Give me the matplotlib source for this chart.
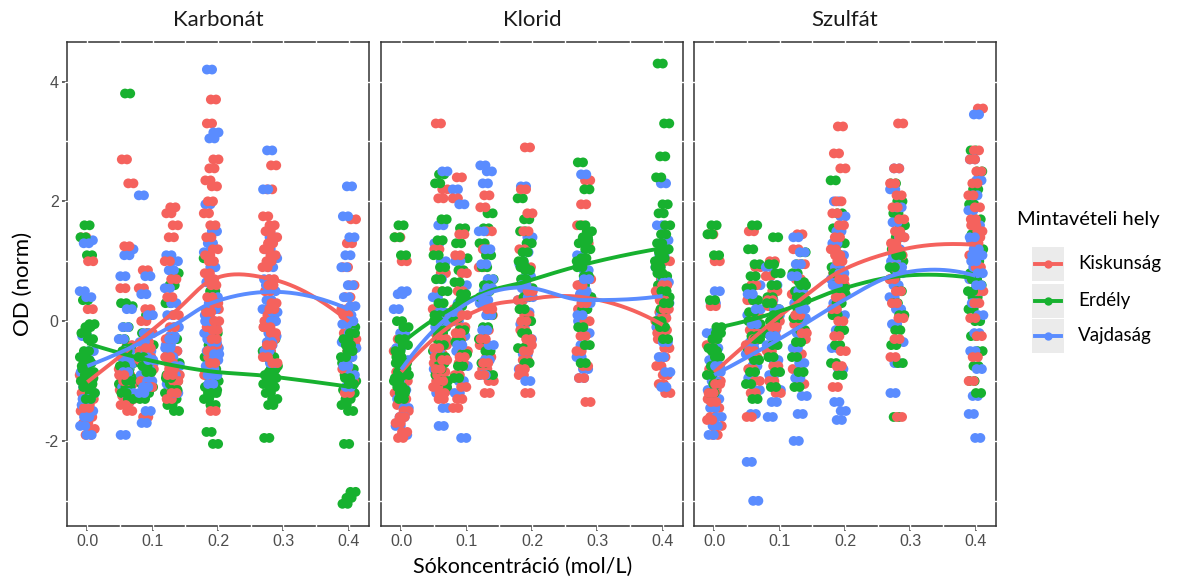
import numpy as np
import matplotlib.pyplot as plt
from matplotlib.lines import Line2D
from matplotlib.patches import Rectangle

# salt concentrations (mol/L) and sampling sites
levels = [0.0, 0.06, 0.09, 0.13, 0.19, 0.28, 0.4]
salts = ["Karbonát", "Klorid", "Szulfát"]
sites = ["Kiskunság", "Erdély", "Vajdaság"]
site_colors = ["#F5625D", "#17B12F", "#5A8CFF"]

# normalised OD readings, one list per concentration level
karbonat_kiskunsag = [
    [1.4, 0.2, -0.7, -0.9, -1.1, -1.2, -1.3, -1.4, -1.5, -1.6, -1.7, -1.8, -1.9, -1.2, 1.0, -1.45],
    [2.7, 2.3, 1.25, 0.55, -0.4, -0.6, -0.8, -0.9, -1.0, -1.05, -1.1, -1.15, -1.2, -1.25, -1.3, -1.35, -1.4, -1.5, -1.0, -0.9],
    [0.85, 0.55, 0.2, 0.0, -0.2, -0.35, -0.5, -0.6, -0.7, -0.8, -0.9, -1.0, -1.1, -1.6, -0.65, -0.45],
    [1.9, 1.8, 1.6, 1.4, 1.0, 0.7, 0.4, 0.1, -0.1, -0.3, -0.5, -0.7, -0.9, -1.1, -1.3, -1.0, -0.8, -0.6, -1.2, -0.9],
    [3.7, 3.3, 2.7, 2.55, 2.35, 2.25, 2.0, 1.8, 1.6, 1.4, 1.2, 1.0, 0.8, 0.6, 0.4, 0.2, 0.0, -0.2, -0.4, -0.6, -0.9, -1.5,
     -0.1, 0.3, 0.7, 1.1, -0.3, -0.5, 0.0, -0.7, 0.15, -0.15],
    [2.6, 2.2, 1.75, 1.6, 1.5, 1.4, 1.3, 1.2, 1.1, 1.0, 0.9, 0.7, 0.5, 0.3, 0.1, -0.1, -0.3, -0.5, -0.7, 0.6, 0.0, -0.2,
     -0.4, -0.6, 0.2, -0.1],
    [1.7, 1.3, 0.9, 0.6, 0.4, 0.2, 0.0, -0.2, -0.4, -0.6, -0.8, -1.0, -1.2, -0.3, -0.5, 0.1],
]
karbonat_erdely = [
    [1.6, 1.4, 1.1, 0.35, -0.05, -0.1, -0.2, -0.3, -0.5, -0.6, -0.7, -0.8, -0.85, -0.9, -1.0, -1.05, -1.1, -1.2, -1.3, -0.75,
     -0.95, -0.65],
    [3.8, 0.3, 0.25, -0.1, -0.3, -0.45, -0.6, -0.7, -0.8, -0.9, -0.95, -1.0, -1.05, -1.1, -1.2, -1.3, -0.85, -0.75, -1.0, -0.5],
    [0.1, -0.2, -0.4, -0.55, -0.7, -0.8, -0.9, -0.95, -1.0, -1.05, -1.1, -1.2, -1.3, -0.85, -0.75, -0.6],
    [0.8, 0.6, 0.3, -0.3, -0.5, -0.7, -0.8, -0.9, -1.0, -1.1, -1.2, -1.3, -1.4, -1.5, -1.05, -0.95, -1.15],
    [1.05, 0.5, 0.2, -0.2, -0.4, -0.6, -0.8, -0.9, -1.0, -1.05, -1.1, -1.15, -1.2, -1.3, -1.4, -1.85, -2.05, -0.95,
     -1.1, -1.2],
    [-0.1, -0.3, -0.6, -0.75, -0.85, -0.9, -0.95, -1.0, -1.05, -1.1, -1.2, -1.3, -1.4, -1.95, -0.8, -1.0, -0.5, -0.6],
    [0.15, -0.1, -0.4, -0.7, -0.8, -0.9, -1.0, -1.1, -1.15, -1.2, -1.3, -1.4, -1.5, -2.05, -2.85, -2.95, -3.05, -1.05,
     -0.95, -0.6, -0.5, -0.3, -0.2, -0.4],
]
karbonat_vajdasag = [
    [1.35, 1.3, 0.5, 0.4, -0.25, -0.5, -0.65, -0.85, -1.0, -1.1, -1.2, -1.3, -1.4, -1.5, -1.6, -1.75, -1.9, -1.3],
    [1.2, 1.1, 0.75, 0.2, -0.1, -0.3, -0.5, -0.6, -0.7, -0.8, -0.9, -1.0, -1.1, -1.2, -1.35, -1.9, -0.65, -0.85],
    [2.1, 0.75, 0.45, 0.1, -0.2, -0.35, -0.5, -0.6, -0.7, -0.8, -0.9, -1.0, -1.1, -1.2, -1.5, -1.7, -0.65],
    [1.1, 1.0, 0.85, 0.55, 0.3, 0.1, -0.1, -0.25, -0.4, -0.5, -0.6, -0.75, -0.9, -1.05, -1.2, -0.3, -0.45],
    [4.2, 3.15, 3.05, 1.95, 1.5, 1.3, 1.15, 0.9, 0.65, 0.4, 0.3, 0.1, -0.1, -0.3, -0.45, -0.6, -0.75, -0.9, -1.05, -0.2,
     0.2, -0.5, -0.65, -0.8, 0.0, -0.35, -0.9, -0.55],
    [2.85, 2.2, 1.4, 1.2, 1.05, 0.9, 0.7, 0.5, 0.35, 0.2, 0.05, -0.1, -0.25, -0.4, -0.55, -0.7, 0.6, 0.15, -0.2, -0.5,
     0.0, -0.35],
    [2.25, 1.75, 1.4, 1.1, 0.9, 0.6, 0.4, 0.25, 0.1, -0.05, -0.2, -0.3, -0.45, -0.6, -0.75, -0.9, -1.1, -0.35, 0.0],
]

klorid_kiskunsag = [
    [1.4, 1.0, -0.3, -0.5, -0.7, -0.85, -1.0, -1.1, -1.2, -1.3, -1.4, -1.5, -1.6, -1.7, -1.85, -1.95],
    [3.3, 2.2, 2.05, 1.2, 0.8, 0.5, 0.2, 0.0, -0.2, -0.4, -0.55, -0.7, -0.85, -1.0, -1.15, -1.3, -0.6, -0.3, -0.9, -1.1,
     -1.2, -0.8, -0.65, -1.0, -0.45],
    [2.4, 2.05, 1.45, 1.1, 0.8, 0.5, 0.2, -0.1, -0.3, -0.5, -0.7, -0.9, -1.1, -1.3, -1.45, -0.6, -0.2, 0.1],
    [2.1, 1.9, 1.5, 1.2, 0.9, 0.6, 0.35, 0.1, -0.15, -0.4, -0.6, -0.8, -1.0, -1.2, -0.3, 0.2, -0.7, -0.9],
    [2.9, 2.2, 1.8, 1.5, 1.2, 0.9, 0.6, 0.35, 0.1, -0.15, -0.4, -0.65, -0.9, -1.2, 0.0, 0.5, -0.5, -0.8, -0.3],
    [2.35, 1.95, 1.6, 1.3, 1.0, 0.7, 0.45, 0.2, 0.0, -0.25, -0.5, -0.75, -0.95, -1.35, 0.3, 0.6],
    [1.0, 0.7, 0.45, 0.3, 0.15, 0.0, -0.15, -0.3, -0.45, -0.6, -0.75, -0.9, -1.05, -1.2, 0.05, -0.2, 0.2, 0.35, 0.5, 0.6],
]
klorid_erdely = [
    [1.6, 1.4, 1.1, 0.0, -0.1, -0.3, -0.5, -0.7, -0.85, -1.0, -1.15, -0.6, -0.4, -1.3, -0.95, -0.8, -1.1, -0.9, -1.2, -0.7],
    [2.45, 2.3, 1.7, 1.35, 1.1, 0.9, 0.7, 0.5, 0.3, 0.1, -0.1, -0.3, -0.5, -0.7, -0.9, -1.1, -0.2, 0.0, -0.6, -0.8, -1.0,
     -0.4],
    [1.55, 1.3, 1.05, 0.85, 0.65, 0.45, 0.25, 0.05, -0.15, -0.35, -0.55, -0.75, -0.95, 0.35],
    [1.8, 1.55, 1.3, 1.1, 0.9, 0.7, 0.5, 0.3, 0.1, -0.1, -0.3, -0.5, -0.7, -0.9, 0.6, 0.4],
    [2.05, 1.7, 1.5, 1.3, 1.15, 1.0, 0.85, 0.7, 0.55, 0.4, 0.2, 0.0, -0.2, -0.45, -0.7, 0.9],
    [2.65, 2.2, 1.6, 1.5, 1.4, 1.3, 1.2, 1.05, 0.9, 0.75, 0.6, 0.4, 0.2, -0.1, -0.4, -0.7, 1.0, 1.35],
    [4.3, 3.3, 2.75, 2.4, 1.95, 1.8, 1.6, 1.45, 1.3, 1.2, 1.05, 0.9, 0.75, 0.6, 0.4, 0.2, 0.0, -0.3, 1.15, 1.0, 0.5, 0.8,
     0.3, -0.1],
]
klorid_vajdasag = [
    [0.5, 0.45, 0.2, -0.2, -0.45, -0.65, -0.85, -1.0, -1.15, -1.3, -1.45, -1.6, -1.75, -1.9],
    [2.5, 1.6, 1.3, 1.0, 0.7, 0.4, 0.15, -0.1, -0.35, -0.6, -0.8, -1.0, -1.2, -1.45, -1.75, -0.5, 0.0],
    [2.2, 1.95, 1.0, 0.6, 0.3, 0.0, -0.25, -0.5, -0.75, -1.0, -1.2, -1.95, -0.4, 0.15],
    [2.6, 2.5, 2.3, 1.5, 1.2, 0.95, 0.7, 0.5, 0.3, 0.1, -0.15, -0.4, -0.65, -0.9, 0.55, 0.35],
    [2.25, 1.4, 1.15, 0.95, 0.75, 0.55, 0.35, 0.15, -0.05, -0.3, -0.55, -0.8, -1.0, 0.6, 0.4],
    [2.45, 1.1, 0.85, 0.6, 0.4, 0.2, 0.0, -0.2, -0.4, -0.6, -0.8, -0.95, 0.3, 0.5, 0.1, 0.7, 0.45],
    [2.3, 1.6, 1.35, 1.1, 0.9, 0.7, 0.5, 0.3, 0.1, -0.1, -0.35, -0.6, -0.85, -1.1, 0.45, 0.65],
]

szulfat_kiskunsag = [
    [1.45, 1.0, 0.25, -0.4, -0.6, -0.8, -1.0, -1.15, -1.3, -1.45, -1.6, -1.75, -1.9, -1.2, -1.05, -1.35, -1.65],
    [1.5, 0.9, 0.6, 0.35, 0.1, -0.15, -0.4, -0.6, -0.8, -1.0, -1.2, -1.6, -0.3, -0.5],
    [1.0, 0.75, 0.5, 0.25, 0.0, -0.25, -0.5, -0.75, -1.0, -1.2, -0.1, 0.35],
    [1.45, 1.2, 0.95, 0.7, 0.45, 0.2, -0.05, -0.3, -0.55, -0.8, -1.05, 0.1, -0.2],
    [3.25, 2.8, 2.55, 2.0, 1.8, 1.6, 1.4, 1.2, 1.0, 0.8, 0.6, 0.4, 0.2, 0.0, -0.25, -0.5, -0.75, -1.1, 0.7, 1.1],
    [3.3, 2.55, 2.3, 2.1, 1.9, 1.7, 1.5, 1.3, 1.1, 0.9, 0.7, 0.5, 0.3, 0.05, -0.3, -0.6, -1.6, 1.2, 1.4],
    [3.55, 2.85, 2.7, 2.5, 2.3, 2.1, 1.9, 1.7, 1.5, 1.3, 1.1, 0.9, 0.7, 0.5, 0.3, 0.05, -0.25, -0.6, -1.0, 1.4, 1.6],
]
szulfat_erdely = [
    [1.6, 1.45, 1.1, 0.35, -0.1, -0.3, -0.45, -0.6, -0.75, -0.9, -1.05, -1.2, -0.2, -0.5],
    [1.6, 1.2, 0.95, 0.75, 0.55, 0.35, 0.15, -0.05, -0.25, -0.45, -0.65, -0.85, -1.05, -1.3, 0.0, -0.3],
    [1.4, 0.95, 0.8, 0.6, 0.4, 0.2, 0.0, -0.2, -0.4, -0.6, -0.85, -1.1, 0.3, 0.1],
    [1.15, 0.95, 0.8, 0.65, 0.5, 0.35, 0.2, 0.05, -0.15, -0.35, -0.6, -0.85, -1.1, 0.6, 0.4],
    [2.35, 1.8, 1.55, 1.3, 1.1, 0.9, 0.75, 0.6, 0.45, 0.3, 0.1, -0.15, -0.4, -0.7, -0.9, 0.8, 0.55],
    [2.3, 2.0, 1.8, 1.6, 1.4, 1.2, 1.0, 0.85, 0.7, 0.5, 0.3, 0.1, -0.15, -0.4, -0.7, -1.6, 0.9, 1.1],
    [2.85, 2.5, 2.2, 1.95, 1.7, 1.45, 1.2, 1.0, 0.8, 0.6, 0.4, 0.2, 0.0, -0.25, -0.5, -0.75, -1.0, -1.2, 0.7, 0.5],
]
szulfat_vajdasag = [
    [0.5, 0.3, -0.2, -0.45, -0.65, -0.85, -1.0, -1.15, -1.3, -1.45, -1.6, -1.75, -1.9, -0.75],
    [0.6, 0.35, 0.1, -0.15, -0.35, -0.55, -0.75, -0.95, -1.15, -1.55, -2.35, -3.0, -0.45, 0.2, -0.05, 0.45],
    [0.9, 0.6, 0.35, 0.1, -0.15, -0.4, -0.65, -0.9, -1.15, -1.35, -1.6, 0.2, -0.25],
    [1.4, 1.15, 0.95, 0.75, 0.5, 0.3, 0.05, -0.2, -0.45, -0.7, -0.95, -1.25, -1.55, -2.0, 0.2],
    [2.0, 1.75, 1.5, 1.3, 1.1, 0.9, 0.7, 0.5, 0.3, 0.1, -0.15, -0.45, -0.8, -1.35, -1.5, -1.65, 0.6, 0.8],
    [2.55, 2.2, 1.9, 1.65, 1.4, 1.2, 1.0, 0.8, 0.6, 0.4, 0.2, -0.05, -0.35, -0.7, -1.2, 0.9, 1.1],
    [3.45, 2.7, 2.35, 2.1, 1.85, 1.6, 1.35, 1.1, 0.9, 0.7, 0.5, 0.3, 0.1, -0.2, -0.5, -0.8, -1.25, -1.55, -1.95, 1.0,
     0.8, 1.2, 1.4, 0.6, 1.1],
]

panel_data = {
    "Karbonát": [karbonat_kiskunsag, karbonat_erdely, karbonat_vajdasag],
    "Klorid": [klorid_kiskunsag, klorid_erdely, klorid_vajdasag],
    "Szulfát": [szulfat_kiskunsag, szulfat_erdely, szulfat_vajdasag],
}

W, H = 1185, 581
TEXT_FONT = ["Lato", "DejaVu Sans"]
TICK_FONT = ["Liberation Sans", "DejaVu Sans"]


def fx(px):
    return px / W


def fy(py):
    return 1 - py / H


def local_fit(x, y, x0, span=0.75):
    """Tricube-weighted local quadratic at x0 -> (value, slope)."""
    n = len(x)
    q = int(np.floor(span * n))
    d = np.abs(x - x0)
    ds = np.sort(d)
    h = ds[q - 1]
    further = ds[ds > h + 1e-12]
    h = (h + further[0]) / 2 if len(further) else h * 1.001
    w = np.clip(1 - (d / h) ** 3, 0, None) ** 3
    X = np.column_stack([np.ones(n), x - x0, (x - x0) ** 2])
    sw = np.sqrt(w)
    coef, *_ = np.linalg.lstsq(X * sw[:, None], y * sw, rcond=None)
    return coef[0], coef[1]


def loess_curve(x, y, vertices, grid):
    """Fit at the vertices, then cubic Hermite between them (as loess' interpolate surface)."""
    x = np.asarray(x, float)
    y = np.asarray(y, float)
    vals, slopes = zip(*[local_fit(x, y, v) for v in vertices])
    out = np.empty_like(grid)
    for i in range(len(vertices) - 1):
        a, b = vertices[i], vertices[i + 1]
        sel = (grid >= a) & (grid <= b)
        t = (grid[sel] - a) / (b - a)
        hw = b - a
        out[sel] = ((2 * t ** 3 - 3 * t ** 2 + 1) * vals[i] + (t ** 3 - 2 * t ** 2 + t) * hw * slopes[i]
                    + (-2 * t ** 3 + 3 * t ** 2) * vals[i + 1] + (t ** 3 - t ** 2) * hw * slopes[i + 1])
    return out


def jitter(n, phase):
    # spread replicate pairs horizontally around a level
    frac = (np.arange(n) * 0.618034 + phase) % 1.0
    return -0.012 + 0.016 * frac


fig = plt.figure(figsize=(W / 100, H / 100), dpi=100)

panel_left = [67, 381, 694]
panel_w = 302
panel_top, panel_bottom = 42, 526
xlim = (-0.031, 0.431)
ylim = (-3.42, 4.66)
grid_x = np.linspace(0, 0.4, 161)

for pi, salt in enumerate(salts):
    ax = fig.add_axes([fx(panel_left[pi]), fy(panel_bottom),
                       panel_w / W, (panel_bottom - panel_top) / H])
    groups = panel_data[salt]

    # points: replicate pairs, interleaved between sites
    xs, ys, cs = [], [], []
    for li, lev in enumerate(levels):
        offs = [jitter(len(groups[g][li]), 0.17 + 0.31 * g + 0.13 * li) for g in range(3)]
        m = max(len(groups[g][li]) for g in range(3))
        for k in range(m):
            for g in range(3):
                vals = groups[g][li]
                if k < len(vals):
                    for extra in (0.0, 0.008):
                        xs.append(lev + offs[g][k] + extra)
                        ys.append(vals[k])
                        cs.append(site_colors[g])
    ax.scatter(xs, ys, s=50, c=cs, linewidths=0, zorder=3)

    # smoothed trends
    for g in range(3):
        gx = np.concatenate([[lev] * len(v) for lev, v in zip(levels, groups[g])])
        gy = np.concatenate(groups[g])
        ax.plot(grid_x, loess_curve(gx, gy, levels, grid_x), color=site_colors[g], lw=2.8,
                solid_capstyle="butt", zorder=4)

    ax.set_xlim(*xlim)
    ax.set_ylim(*ylim)

    # white grid lines cut across the dark panel border
    for gxv in np.arange(0, 0.41, 0.05):
        ax.plot([gxv, gxv], [-0.006, 1.006], color="white", lw=1.0,
                transform=ax.get_xaxis_transform(), clip_on=False, zorder=2.6)
    for gyv in [-3, -2, -1, 0, 1, 2, 3, 4]:
        ax.plot([-0.006, 1.006], [gyv, gyv], color="white", lw=1.0,
                transform=ax.get_yaxis_transform(), clip_on=False, zorder=2.6)

    for sp in ax.spines.values():
        sp.set_color("#333333")
        sp.set_linewidth(1.1)

    ax.set_xticks([0.0, 0.1, 0.2, 0.3, 0.4])
    ax.set_xticklabels(["0.0", "0.1", "0.2", "0.3", "0.4"], family=TICK_FONT)
    if pi == 0:
        ax.set_yticks([-2, 0, 2, 4])
        ax.set_yticklabels(["-2", "0", "2", "4"], family=TICK_FONT)
    else:
        ax.set_yticks([])
    ax.tick_params(length=3.5, width=1.1, color="#333333", labelcolor="#4D4D4D",
                   labelsize=11.5, pad=2.5)

    fig.text(fx(panel_left[pi] + panel_w / 2), fy(20), salt, ha="center", va="center",
             fontsize=16, family=TEXT_FONT, color="#1A1A1A")

fig.text(fx(23), fy(284), "OD (norm)", rotation=90, ha="center", va="center",
         fontsize=16, family=TEXT_FONT, color="black")
fig.text(fx(523), fy(567), "Sókoncentráció (mol/L)", ha="center", va="center",
         fontsize=15.5, family=TEXT_FONT, color="black")

# legend drawn by hand so every key gets its grey box
fig.text(fx(1017), fy(220), "Mintavételi hely", ha="left", va="center",
         fontsize=14.5, family=TEXT_FONT, color="black")
key_top = [247, 283.5, 319]
for g, site in enumerate(sites):
    top = key_top[g]
    fig.add_artist(Rectangle((fx(1032), fy(top + 34)), 32 / W, 34 / H,
                             transform=fig.transFigure, facecolor="#EBEBEB",
                             edgecolor="none"))
    yc = fy(top + 17)
    fig.add_artist(Line2D([fx(1035), fx(1061)], [yc, yc], color=site_colors[g], lw=2.8,
                          transform=fig.transFigure))
    fig.add_artist(Line2D([fx(1048)], [yc], color=site_colors[g], marker="o",
                          markersize=6, markeredgewidth=0, transform=fig.transFigure))
    fig.text(fx(1078), yc, site, ha="left", va="center", fontsize=13.5,
             family=TEXT_FONT, color="black")

fig.savefig("out.png", dpi=100)
